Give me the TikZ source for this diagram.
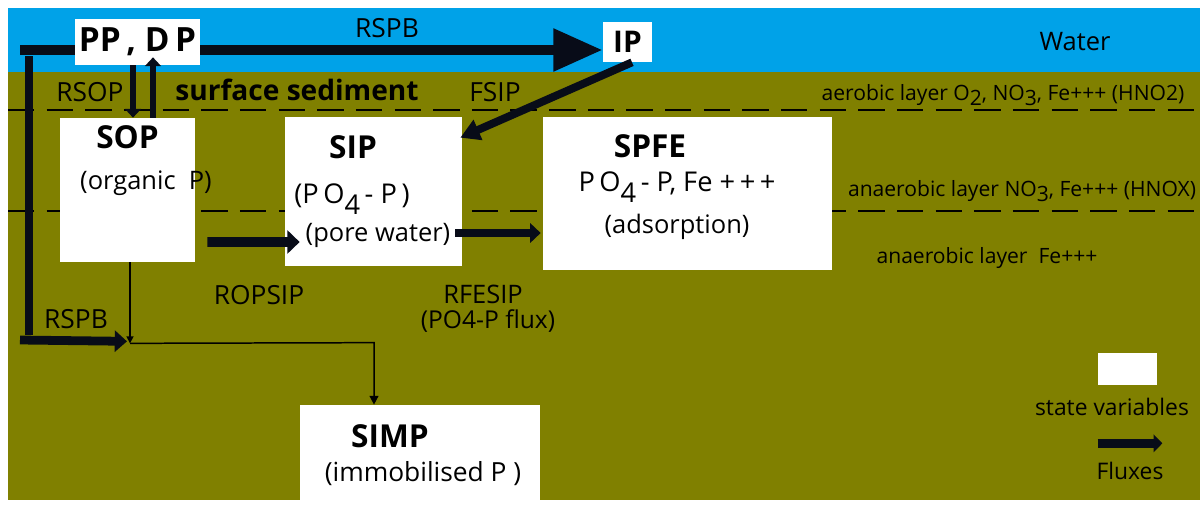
\documentclass[tikz,border=0pt]{standalone}
\usepackage{fontspec}
\setmainfont{Open Sans}
\usetikzlibrary{arrows.meta,calc}

\definecolor{water}{HTML}{00A2E8}
\definecolor{sediment}{HTML}{808000}
\definecolor{fluxblack}{HTML}{080C18}

\newcommand{\lowsub}[1]{\raisebox{-0.5ex}{#1}}
\newcommand{\dropsub}[1]{\raisebox{-0.8ex}{#1}}

\tikzset{
  statebox/.style={fill=white, draw=none, inner sep=0pt},
  flux/.style={draw=fluxblack, line width=#1},
  flux/.default=5pt,
  thinflux/.style={draw=black, line width=0.85pt},
  layerline/.style={black, line width=1.2pt, dash pattern=on 15pt off 7pt},
  boxtitle/.style={font=\fontsize{18}{20}\selectfont\bfseries, inner sep=0pt},
  boxtext/.style={font=\fontsize{14.5}{16}\selectfont, inner sep=0pt},
  fluxlabel/.style={font=\fontsize{15}{17}\selectfont, inner sep=0pt},
  layerlabel/.style={font=\fontsize{12}{14}\selectfont, inner sep=0pt},
  legendlabel/.style={font=\fontsize{13}{15}\selectfont, inner sep=0pt},
}

\begin{document}
\begin{tikzpicture}[x=0.02cm, y=-0.02cm]
    % Canvas (1 unit = 1 pixel of the original)
    \useasboundingbox (0,0) rectangle (1200,507);
    \fill[white] (0,0) rectangle (1200,507);
    \fill[water] (8,8) rectangle (1200,72);
    \fill[sediment] (8,72) rectangle (1200,500);

    % Layer boundaries
    \draw[layerline] (8,110) -- (1200,110);
    \draw[layerline] (8,211) -- (1200,211);

    % Water column
    \node[statebox, minimum width=0.98cm, minimum height=0.8cm,
          font=\fontsize{17}{19}\selectfont\bfseries] (ip) at (627.5,42) {IP};
    \coordinate (topL) at (20,50);
    \coordinate (botL) at (20,340);
    \draw[flux=5.7pt, -{Triangle[length=28pt, width=23pt]}] (topL) -- (topL -| ip.west);
    \draw[flux=5pt] ($(topL)+(9,6)$) -- ($(botL)+(9,-5)$);
    \node[statebox, minimum width=2.5cm, minimum height=0.92cm,
          font=\fontsize{19}{21}\selectfont\bfseries] (ppdp) at (137.5,42) {PP\,, D\,P};

    % Sediment state variables
    \node[statebox, minimum width=2.7cm, minimum height=2.88cm] (sop) at (127.5,190) {};
    \node[statebox, minimum width=3.54cm, minimum height=2.98cm] (sip) at (373.5,191.5) {};
    \node[statebox, minimum width=5.78cm, minimum height=3.06cm] (spfe) at (687.5,193.5) {};
    \node[statebox, minimum width=4.8cm, minimum height=2.04cm] (simp) at (420,456) {};

    % Box texts
    \node[boxtitle] (sopTitle) at (127.5,137) {SOP};
    \node[boxtext] (sopSub) at (146,183) {(organic\ \ P)};
    \node[boxtitle] (sipTitle) at (353,147) {SIP};
    \node[boxtext, font=\fontsize{15.5}{17}\selectfont] (sipSub) at (352,199) {(P\,O\dropsub{4}\,- P\,)};
    \node[boxtext] (sipPore) at (378,235) {(pore water)};
    \node[boxtitle] (spfeTitle) at (650,146) {SPFE};
    \node[boxtext, font=\fontsize{15.5}{17}\selectfont] (spfeSub) at (677,187) {P\,O\dropsub{4}\,- P, Fe\ +\,+\,+};
    \node[boxtext] (spfeAds) at (677,227) {(adsorption)};
    \node[boxtitle] (simpTitle) at (390,436) {SIMP};
    \node[boxtext, font=\fontsize{15}{17}\selectfont] (simpSub) at (423,474) {(immobilised\ P\ )};

    % Exchange with the water column
    \coordinate (sopIn) at (133,0);
    \coordinate (sopOut) at (153,0);
    \draw[flux=3.8pt, -{Triangle[length=5pt, width=9pt]}] (sopIn |- ppdp.south) -- (sopIn |- sop.north);
    \draw[flux=3.8pt, -{Triangle[length=5pt, width=9pt]}] (sopOut |- sop.north) -- ([yshift=0.16cm]sopOut |- ppdp.south);
    \draw[flux=4.5pt, -{Triangle[length=11pt, width=12pt]}] ($(ip.south)+(4.5,0)$) -- ($(sip.north east)+(-2,21)$);

    % Fluxes between sediment pools
    \draw[flux=5.5pt, -{Triangle[length=7pt, width=13pt]}] ($(sop.east)+(12,52)$) -- ($(sip.west)+(15,50.5)$);
    \draw[flux=5pt, -{Triangle[length=6pt, width=11pt]}] ($(sip.east)+(-7,41.5)$) -- ($(spfe.west)+(-2,39.5)$);

    % Burial to immobilised P
    \coordinate (jL) at ($(sop.south)+(2.5,81)$);
    \coordinate (jR) at ($(simp.north)+(-46,-62)$);
    \draw[flux=5pt, -{Triangle[length=7pt, width=12pt]}] (botL) -- ($(jL)+(-3,-2)$);
    \draw[thinflux, -{Triangle[length=4pt, width=4pt]}] ($(sop.south)+(2.5,0)$) -- (jL);
    \draw[thinflux, -{Triangle[length=5pt, width=5pt]}] (jL) -- (jR) -- (jR |- simp.north);

    % Flux labels
    \node[fluxlabel] (lblRspbTop) at (387,28) {RSPB};
    \node[fluxlabel] (lblRsop) at (90,92) {RSOP};
    \node[fluxlabel] (lblFsip) at (495,92) {FSIP};
    \node[fluxlabel] (lblRopsip) at (259,295) {ROPSIP};
    \node[boxtext] (lblRfesip) at (483,294) {RFESIP};
    \node[boxtext, font=\fontsize{14}{16}\selectfont] (lblPflux) at (488,321) {(PO4-P flux)};
    \node[fluxlabel] (lblRspbLow) at (76,319) {RSPB};

    % Layer labels
    \node[fluxlabel, font=\fontsize{14.5}{16}\selectfont] (lblWater) at (1075,42) {Water};
    \node[font=\fontsize{16}{18}\selectfont\bfseries, inner sep=0pt] (lblSurface) at (297,90) {surface sediment};
    \node[layerlabel] (lblAerobic) at (1003,95) {aerobic layer O\lowsub{2}, NO\lowsub{3}, Fe+++ (HNO2)};
    \node[layerlabel] (lblAnoxA) at (1022,191) {anaerobic layer NO\lowsub{3}, Fe+++ (HNOX)};
    \node[layerlabel] (lblAnoxB) at (987,258) {anaerobic layer\ \ Fe+++};

    % Legend
    \node[statebox, minimum width=1.18cm, minimum height=0.64cm] (legendBox) at (1127.5,369) {};
    \node[legendlabel] (lblState) at (1112,407) {state variables};
    \draw[flux=5.5pt, -{Triangle[length=5pt, width=10pt]}] ($(legendBox.south west)+(0,58)$) -- ($(legendBox.south east)+(5,58)$);
    \node[legendlabel] (lblFluxes) at (1130,471) {Fluxes};
\end{tikzpicture}
\end{document}
